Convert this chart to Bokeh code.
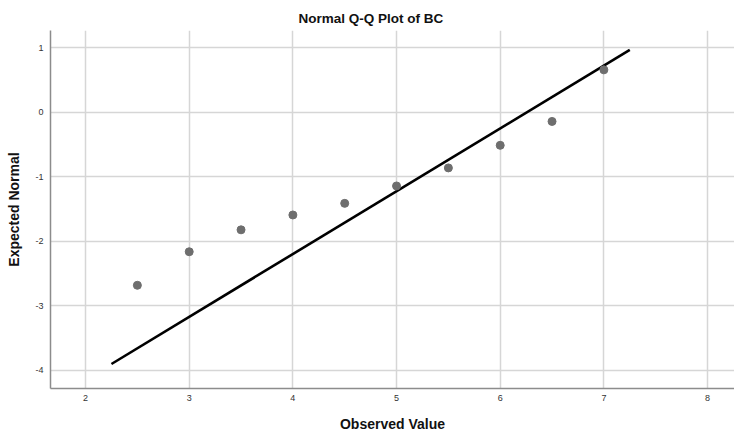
from bokeh.plotting import figure
from bokeh.models import FixedTicker, Range1d
from bokeh.embed import file_html
from bokeh.resources import INLINE

# Observed values and their expected normal scores
observed = [2.5, 3.0, 3.5, 4.0, 4.5, 5.0, 5.5, 6.0, 6.5, 7.0]
expected = [-2.68, -2.16, -1.82, -1.59, -1.41, -1.14, -0.86, -0.51, -0.14, 0.66]

# Reference line end points
line_x = [2.25, 7.25]
line_y = [-3.90, 0.97]

x_ticks = [2, 3, 4, 5, 6, 7, 8]
y_ticks = [-4, -3, -2, -1, 0, 1]

FONT = "Liberation Sans"

p = figure(width=734, height=436, output_backend="svg", toolbar_location=None,
           x_range=Range1d(1.662, 8.26), y_range=Range1d(-4.28, 1.27),
           min_border_left=50, min_border_right=0, min_border_top=30,
           min_border_bottom=48, title="Normal Q-Q Plot of BC")

p.title.text_font = FONT
p.title.text_font_size = "13.5px"
p.title.text_font_style = "bold"
p.title.align = "left"
p.title.offset = 248
p.title.text_color = "#111111"

p.outline_line_color = None
p.background_fill_color = "white"
p.border_fill_color = "white"

for ax in (p.xaxis[0], p.yaxis[0]):
    ax.axis_line_color = "#8c8c8c"
    ax.axis_line_width = 1.5
    ax.major_tick_line_color = None
    ax.minor_tick_line_color = None
    ax.major_tick_out = 0
    ax.major_tick_in = 0
    ax.minor_tick_out = 0
    ax.minor_tick_in = 0
    ax.major_label_text_font = FONT
    ax.major_label_text_font_size = "9px"
    ax.major_label_text_color = "#333333"
    ax.axis_label_text_font = FONT
    ax.axis_label_text_font_size = "14px"
    ax.axis_label_text_font_style = "bold"
    ax.axis_label_text_color = "#111111"

p.xaxis.ticker = FixedTicker(ticks=x_ticks)
p.yaxis.ticker = FixedTicker(ticks=y_ticks)
# plain hyphen for negative tick labels
p.yaxis.major_label_overrides = {t: str(t) for t in y_ticks}
p.xaxis.axis_label = "Observed Value"
p.yaxis.axis_label = "Expected Normal"
p.xaxis.major_label_standoff = 6
p.yaxis.major_label_standoff = 7
p.xaxis.axis_label_standoff = 12
p.yaxis.axis_label_standoff = 10

p.xgrid.ticker = FixedTicker(ticks=x_ticks)
p.ygrid.ticker = FixedTicker(ticks=y_ticks)
p.grid.grid_line_color = "#d6d6d6"
p.grid.grid_line_width = 1.5

p.line(line_x, line_y, line_color="black", line_width=2.6)
p.scatter(observed, expected, size=8, fill_color="#6e6e6e", line_color="#6e6e6e")

open("out.html", "w").write(file_html(p, INLINE))
